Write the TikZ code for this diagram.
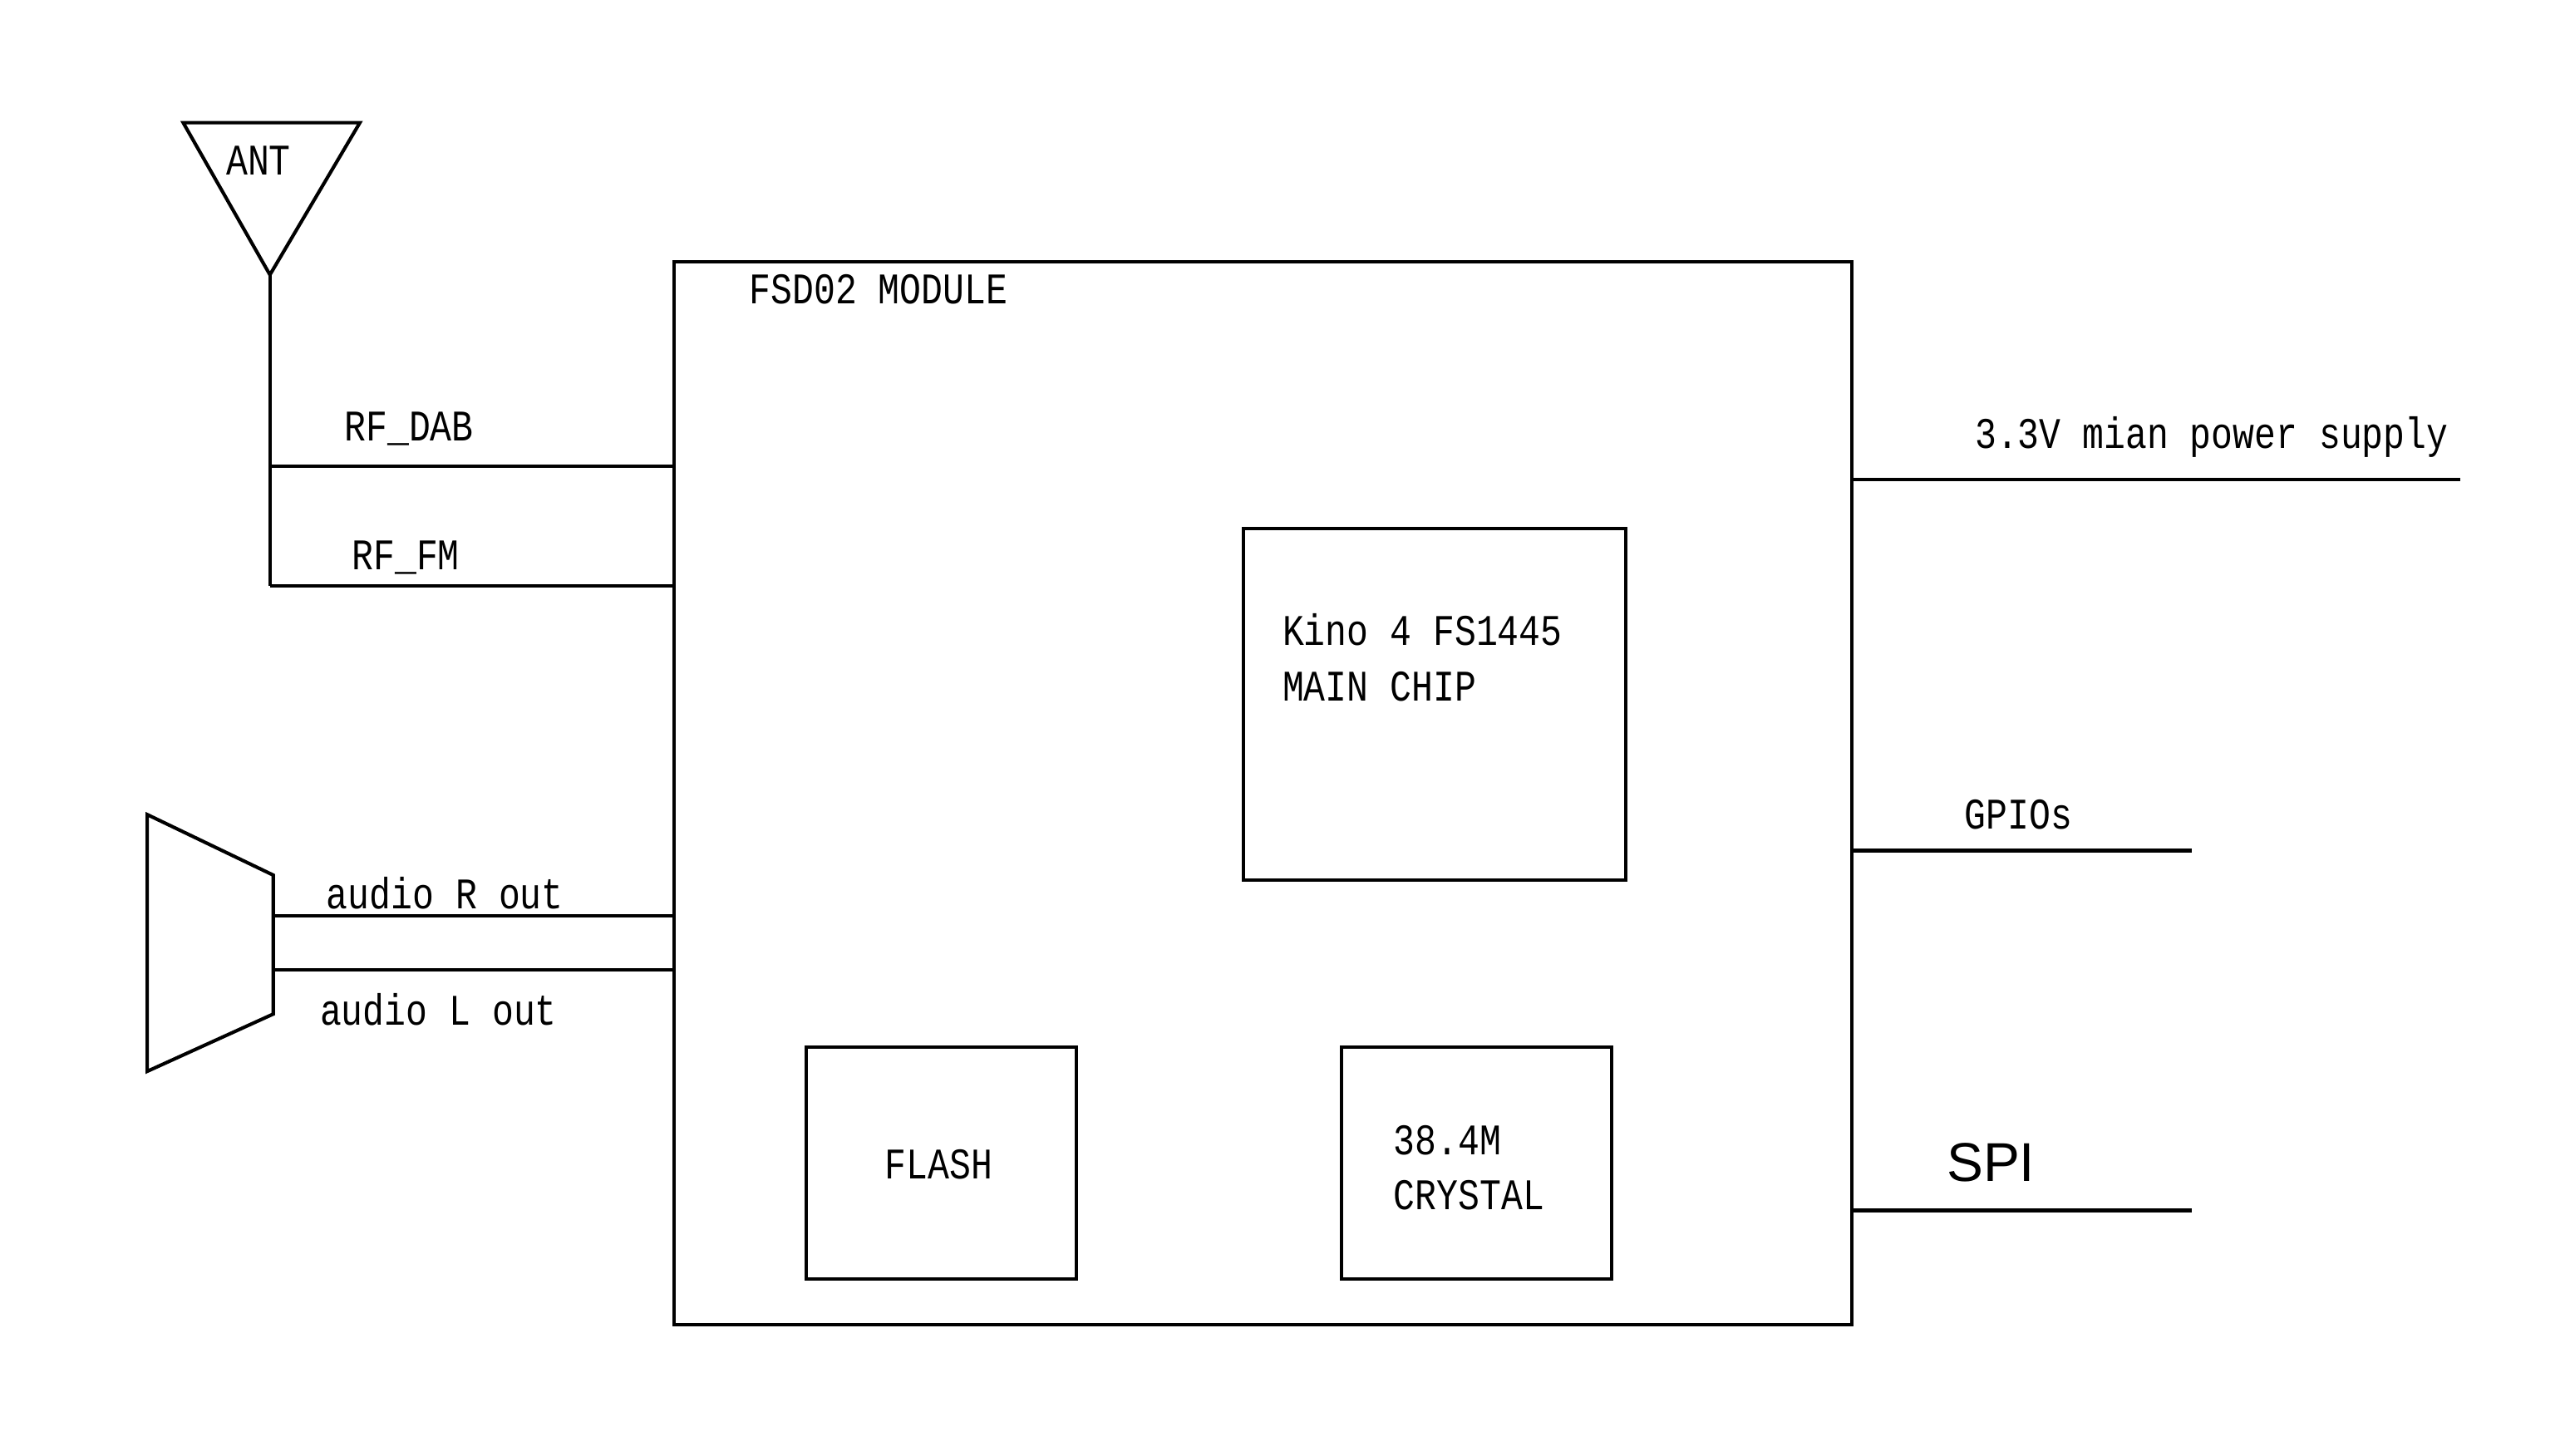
\documentclass[tikz,border=0pt]{standalone}
\usepackage{fontspec}
\newfontfamily\monof[FakeStretch=0.82]{Liberation Mono}
\newfontfamily\sansf{Liberation Sans}
\begin{document}
\begin{tikzpicture}[x=0.01cm,y=-0.01cm,line width=0.6pt,
  lbl/.style={inner sep=0pt,font=\monof\fontsize{7.6}{9.6}\selectfont},
  box/.style={draw,line width=0.6pt}]
\useasboundingbox (0,0) rectangle (1568,890);
% antenna
\draw (112,75) -- (220,75) -- (165,168) -- cycle;
\node[lbl] (ant) at (158,98) {ANT};
\coordinate (a0) at (165,168);
\coordinate (a1) at (165,285);
\coordinate (a2) at (165,358);
\draw (a0) -- (a2);
% module
\draw[box] (412,160) rectangle (1132,810);
\node[lbl,anchor=west] (mod) at (457,177) {FSD02 MODULE};
\coordinate (m1) at (412,285);
\coordinate (m2) at (412,358);
\draw (a1) -- (m1);
\draw (a2) -- (m2);
\node[lbl] (rfdab) at (250,262) {RF\_DAB};
\node[lbl] (rffm) at (248,341) {RF\_FM};
% main chip
\draw[box] (760,323) rectangle (994,538);
\node[lbl,anchor=west,align=left] (chip) at (783,402) {Kino 4 FS1445\\MAIN CHIP};
% flash
\draw[box] (493,640) rectangle (658,782);
\node[lbl] (flash) at (574,712) {FLASH};
% crystal
\draw[box] (820,640) rectangle (985,782);
\node[lbl,anchor=west,align=left] (xtal) at (851,714) {38.4M\\CRYSTAL};
% speaker
\draw (90,498) -- (167,535) -- (167,620) -- (90,655) -- cycle;
\coordinate (s1) at (167,560);
\coordinate (s2) at (167,593);
\coordinate (m3) at (412,560);
\coordinate (m4) at (412,593);
\draw (s1) -- (m3);
\draw (s2) -- (m4);
\node[lbl] (ar) at (272,546) {audio R out};
\node[lbl] (al) at (268,617) {audio L out};
% right side
\coordinate (r1) at (1132,293); \coordinate (r1e) at (1504,293);
\coordinate (r2) at (1132,520); \coordinate (r2e) at (1340,520);
\coordinate (r3) at (1132,740); \coordinate (r3e) at (1340,740);
\draw (r1) -- (r1e);
\draw (r2) -- (r2e);
\draw (r3) -- (r3e);
\node[lbl] (pwr) at (1352,267) {3.3V mian power supply};
\node[lbl] (gpio) at (1234,498) {GPIOs};
\node[inner sep=0pt,font=\sansf\fontsize{9.5}{11}\selectfont] (spi) at (1217,711) {SPI};
\end{tikzpicture}
\end{document}
